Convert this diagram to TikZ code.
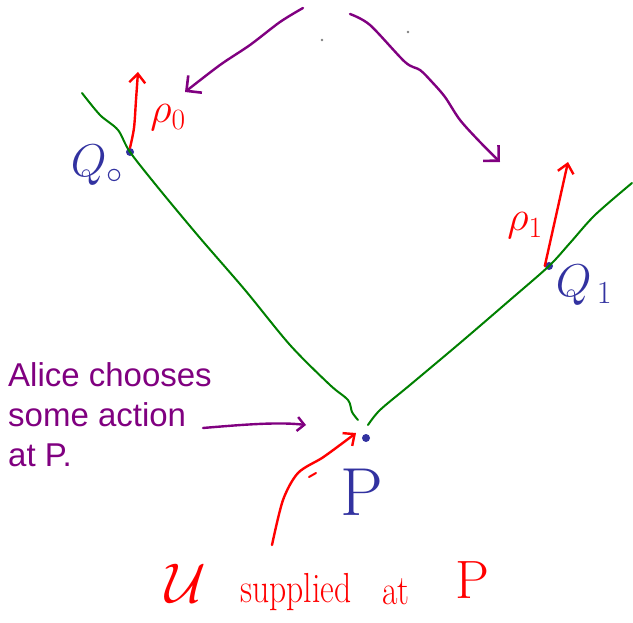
\documentclass[tikz,border=0pt]{standalone}
\usepackage{fix-cm}
\usepackage{graphicx}
\usepackage{fontspec}
\newfontfamily\labelfont{Liberation Sans}
\usetikzlibrary{arrows.meta}
\definecolor{inkgreen}{RGB}{0,128,0}
\definecolor{inkblue}{RGB}{50,50,160}
\definecolor{inkred}{RGB}{255,0,0}
\definecolor{inkpurple}{RGB}{128,0,128}
\tikzset{
  ink/.style={line width=2.4pt, line cap=round, line join=round},
  greenink/.style={ink, draw=inkgreen, line width=2pt},
  redink/.style={ink, draw=inkred, -{Straight Barb[length=9pt,width=16pt,line width=2.4pt]}},
  purpleink/.style={ink, draw=inkpurple, -{Straight Barb[length=11pt,width=22pt,line width=2.6pt]}},
  dotpt/.style={circle, fill=inkblue, inner sep=0pt, minimum size=8pt},
  bluelabel/.style={text=inkblue, inner sep=0pt, font=\fontsize{46}{50}\selectfont},
  redlabel/.style={text=inkred, inner sep=0pt, font=\fontsize{42}{46}\selectfont},
  purpletext/.style={text=inkpurple, font=\labelfont\fontsize{33}{40}\selectfont, align=left, inner sep=0pt}
}
\begin{document}
\begin{tikzpicture}[x=1pt,y=-1pt]
\useasboundingbox (0,0) rectangle (633,623);
% points
\node[dotpt] (q0) at (130,152) {};
\node[dotpt] (q1) at (549,266) {};
\node[dotpt] (p) at (366,438) {};
% green curves
\draw[greenink] plot[smooth] coordinates {(82,93) (100,115) (118,130) (130,152) (160,190) (200,238) (245,290) (290,345) (330,385) (348,400) (352,412) (358,420)};
\draw[greenink] plot[smooth] coordinates {(632,183) (595,215) (570,243) (549,266) (510,300) (460,343) (410,385) (380,410) (368,425)};
% red arrows
\coordinate (r0) at (138,72);
\coordinate (r1) at (568,162);
\draw[redink] plot[smooth] coordinates {(q0.north) (134,128) (136,100) (r0)};
\draw[redink] (q1.west) -- (r1);
\coordinate (ustart) at (272,545);
\coordinate (uend) at (356,433);
\draw[redink] plot[smooth] coordinates {(ustart) (283,500) (298,473) (322,458) (340,445) (uend)};
\draw[ink, draw=inkred, line width=2pt] (309,477) -- (316,473);
% purple arrows
\coordinate (a0s) at (303,8);
\coordinate (a0e) at (185,92);
\draw[purpleink] plot[smooth] coordinates {(a0s) (280,22) (250,45) (220,65) (a0e)};
\coordinate (a1s) at (350,14);
\coordinate (a1e) at (500,162);
\draw[purpleink] plot[smooth] coordinates {(a1s) (370,25) (405,62) (420,70) (432,82) (445,97) (460,120) (480,142) (a1e)};
\fill[gray] (322,40) circle (1.3pt);
\fill[gray] (408,32) circle (1.3pt);
% text
\node[purpletext, anchor=north west] (alice) at (8,362) {Alice chooses\\some action\\at P.};
\coordinate (aliceend) at (306,425);
\draw[purpleink, -{Straight Barb[length=7pt,width=14pt,line width=2.4pt]}] (203,428) .. controls (250,424) and (280,422) .. (aliceend);
\node[bluelabel] (q0lab) at (97,165) {$Q_{\circ}$};
\node[bluelabel] (q1lab) at (584,285) {$Q_{\,1}$};
\node[text=inkblue, inner sep=0pt, font=\fontsize{68}{72}\selectfont] (plab) at (362,492) {P};
\node[redlabel, anchor=center] (rho0) at (168,118) {$\rho_0$};
\node[redlabel] (rho1) at (525,226) {$\rho_1$};
\node[redlabel, font=\fontsize{56}{60}\selectfont] (ulab) at (186,583) {$\mathcal{U}$};
\node[redlabel, font=\fontsize{42}{46}\selectfont] (supp) at (296,592) {\scalebox{0.8}[1]{supplied}};
\node[redlabel, font=\fontsize{42}{46}\selectfont] (atlab) at (396,592) {\scalebox{0.8}[1]{at}};
\node[redlabel, font=\fontsize{54}{58}\selectfont] (plab2) at (472,580) {P};
\end{tikzpicture}
\end{document}
